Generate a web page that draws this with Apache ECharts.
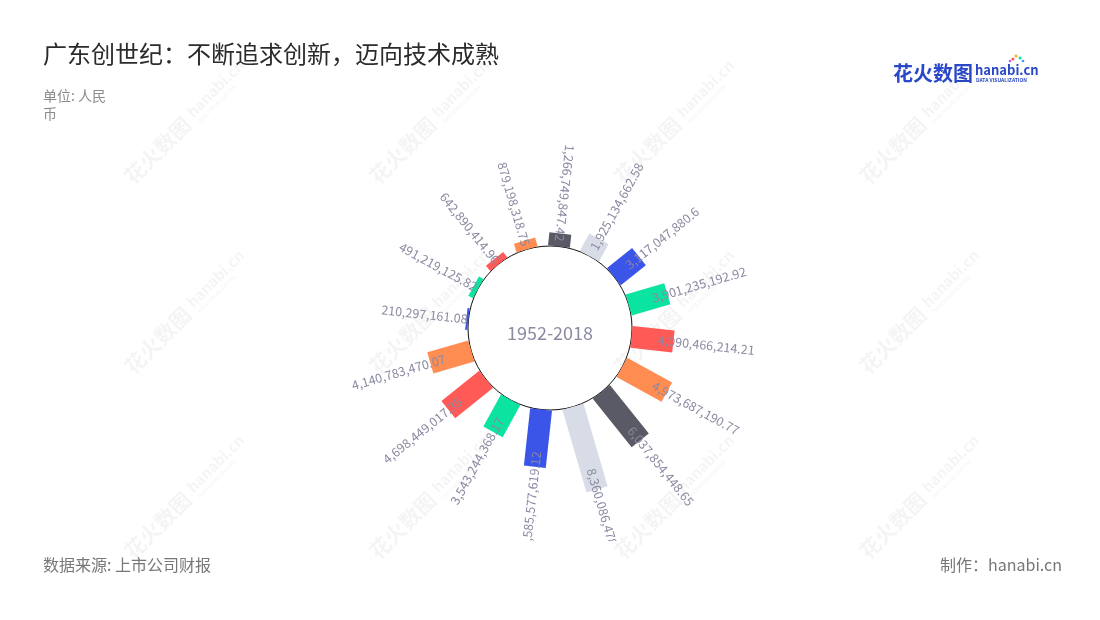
<!DOCTYPE html>
<html><head><meta charset="utf-8">
<script src="https://cdn.jsdelivr.net/npm/echarts/dist/echarts.min.js"></script>
<style>html,body{margin:0;padding:0;background:#fff}#c{width:1100px;height:620px}</style>
</head><body><div id="c"></div>
<script>
// ---- data ----
const categories = ['2003','2004','2005','2006','2007','2008','2009','2010','2011','2012','2013','2014','2015','2016','2017','2018'];
const values = [210297161.08, 491219125.82, 642890414.96, 879198318.75, 1266749847.42, 1925134662.58,
  3117047880.6, 3901235192.92, 4090466214.21, 4973687190.77, 6037854448.65, 8360086478.48,
  5585577619.12, 3543244368.17, 4698449017.35, 4140783470.07];
const periodLabel = '1952-2018';
const titleText = '广东创世纪：不断追求创新，迈向技术成熟';
const unitText = '单位: 人民\n币';
const sourceText = '数据来源: 上市公司财报';
const makerText = '制作：hanabi.cn';

// ---- styles ----
const palette = ['#3a55e8', '#0be3a0', '#ff5a55', '#ff8d52', '#5a5a66', '#d8dce6'];
const labelColor = '#8a8aa2';
const FONT = '"Noto Sans CJK SC","Noto Sans",sans-serif';
const fmt = v => v.toLocaleString('en-US', {maximumFractionDigits: 2});

const chart = echarts.init(document.getElementById('c'), null, {renderer: 'canvas'});

const seriesData = values.map((v, i) => [i, v]);
const halfW = 11;

// watermarks
const wmColor = 'rgba(0,0,0,0.045)';
const wm = [];
[183, 428, 673, 918].forEach(x => [125, 315, 500].forEach(y => {
  wm.push({
    type: 'group', x: x, y: y, rotation: Math.PI / 4, z: 50, silent: true,
    children: [
      {type: 'text', x: -78, y: 0, style: {text: '花火数图', fill: wmColor, font: 'bold 21px ' + FONT, verticalAlign: 'middle'}},
      {type: 'text', x: 12, y: -3, style: {text: 'hanabi.cn', fill: wmColor, font: 'bold 15px ' + FONT, verticalAlign: 'middle'}},
      {type: 'text', x: 13, y: 9, style: {text: 'DATA VISUALIZATION', fill: wmColor, font: 'bold 5px ' + FONT, verticalAlign: 'middle'}}
    ]
  });
}));

const option = {
  backgroundColor: '#fff',
  animation: false,
  title: [
    {text: titleText, left: 43, top: 42, padding: 0, textStyle: {fontSize: 24, fontWeight: 'normal', color: '#2b2b2b', fontFamily: FONT}},
    {text: unitText, left: 43, top: 87, padding: 0, textStyle: {fontSize: 14, fontWeight: 'normal', color: '#8c8c8c', lineHeight: 18, fontFamily: FONT}},
    {text: sourceText, left: 43, top: 557, padding: 0, textStyle: {fontSize: 16, fontWeight: 'normal', color: '#777', fontFamily: FONT}},
    {text: makerText, right: 38, top: 557, padding: 0, textStyle: {fontSize: 16, fontWeight: 'normal', color: '#777', fontFamily: FONT}}
  ],
  polar: [
    {center: [550, 328], radius: [82, 185]},
    {center: [550, 328], radius: 82}
  ],
  angleAxis: [
    {polarIndex: 0, type: 'category', data: categories, startAngle: 185, show: false},
    {polarIndex: 1, type: 'value', min: 0, max: 360, show: true,
      axisLine: {show: true, lineStyle: {color: '#111', width: 1}},
      axisTick: {show: false}, axisLabel: {show: false}, splitLine: {show: false}}
  ],
  radiusAxis: [
    {polarIndex: 0, type: 'value', min: 0, max: 1e10, show: false},
    {polarIndex: 1, type: 'value', show: false}
  ],
  series: [{
    type: 'custom',
    coordinateSystem: 'polar',
    polarIndex: 0,
    clip: false,
    encode: {angle: 0, radius: 1},
    data: seriesData,
    renderItem: function (params, api) {
      const idx = api.value(0);
      const v = api.value(1);
      const c = api.coord([0, idx]);
      const far = api.coord([1e10, idx]);
      let dx = far[0] - c[0], dy = far[1] - c[1];
      const len = Math.hypot(dx, dy); dx /= len; dy /= len;
      const p1 = api.coord([v, idx]);
      const nx = -dy * halfW, ny = dx * halfW;
      const pts = [[c[0] + nx, c[1] + ny], [p1[0] + nx, p1[1] + ny], [p1[0] - nx, p1[1] - ny], [c[0] - nx, c[1] - ny]];
      const a = Math.atan2(-dy, dx);
      const outward = Math.abs(a) < 80 * Math.PI / 180;
      const rot = outward ? a : (a > 0 ? a - Math.PI : a + Math.PI);
      const anchorVal = Math.min(Math.max(v - 1.5e9, v * 0.4), v * 0.75);
      const pa = api.coord([anchorVal, idx]);
      return {
        type: 'group',
        children: [
          {type: 'polygon', shape: {points: pts}, style: {fill: palette[idx % palette.length]}},
          {type: 'group', clipPath: {type: 'rect', shape: {x: 0, y: 0, width: 1100, height: 541}},
            children: [{
              type: 'text', x: pa[0], y: pa[1], rotation: rot, z2: 10,
              style: {text: fmt(values[idx]), fill: labelColor, font: '12.5px ' + FONT,
                align: outward ? 'left' : 'right', verticalAlign: 'middle'}
            }]}
        ]
      };
    }
  }],
  graphic: [
    {type: 'text', x: 550, y: 333, z: 10, style: {text: periodLabel, fill: '#8b8ba3', font: '18px ' + FONT, align: 'center', verticalAlign: 'middle'}},
    {type: 'group', z: 10, children: [
      {type: 'text', x: 893, y: 73, style: {text: '花火数图', fill: '#2a48c8', font: 'bold 20px ' + FONT, verticalAlign: 'middle'}},
      {type: 'text', x: 975, y: 70, style: {text: 'hanabi.cn', fill: '#2a48c8', font: 'bold 13px ' + FONT, verticalAlign: 'middle'}},
      {type: 'text', x: 976, y: 80, style: {text: 'DATA VISUALIZATION', fill: '#2a48c8', font: 'bold 5px ' + FONT, verticalAlign: 'middle'}},
      {type: 'circle', shape: {cx: 1013, cy: 59, r: 1.5}, style: {fill: '#ff5a55'}},
      {type: 'circle', shape: {cx: 1016, cy: 56, r: 1.5}, style: {fill: '#ffb020'}},
      {type: 'circle', shape: {cx: 1020, cy: 58, r: 1.5}, style: {fill: '#0be3a0'}},
      {type: 'circle', shape: {cx: 1010, cy: 61, r: 1.3}, style: {fill: '#c45cf0'}},
      {type: 'circle', shape: {cx: 1023, cy: 61, r: 1.3}, style: {fill: '#3a9cf0'}}
    ]}
  ].concat(wm)
};
chart.setOption(option);
</script></body></html>
